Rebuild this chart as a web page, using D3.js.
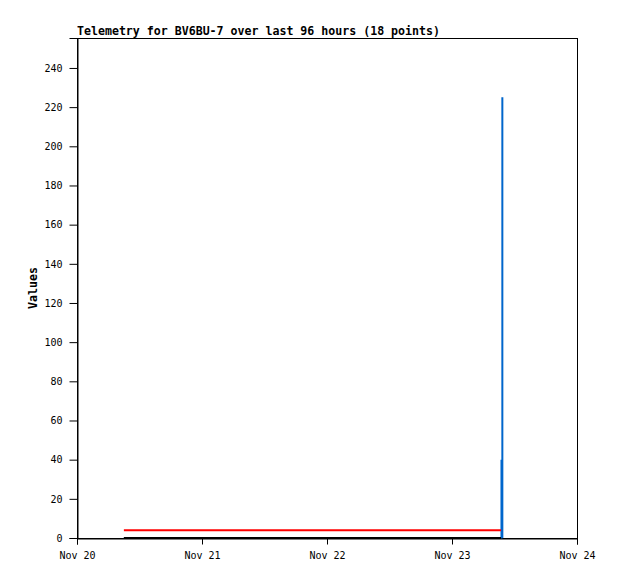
<!DOCTYPE html>
<html>
<head>
<meta charset="utf-8">
<script src="https://cdn.jsdelivr.net/npm/d3@7"></script>
<style>
  body { margin: 0; background: #fff; }
  svg { display: block; }
</style>
</head>
<body>
<svg width="618" height="579"></svg>
<script>
// telemetry series (3 channels x 6 points)
const lineTimes = ["2023-11-20T09:00", "2023-11-20T21:00", "2023-11-21T09:00", "2023-11-22T09:00", "2023-11-23T09:00", "2023-11-23T09:25"];
const blueTimes = ["2023-11-20T09:00", "2023-11-22T09:00", "2023-11-23T09:30", "2023-11-23T09:30", "2023-11-23T09:40", "2023-11-23T09:40"];
const redValues = [4, 4, 4, 4, 4, 4];
const blackValues = [0, 0, 0, 0, 0, 0];
const blueValues = [0, 0, 0, 40, 0, 225];
const yTicks = [0, 20, 40, 60, 80, 100, 120, 140, 160, 180, 200, 220, 240];
const xTicks = ["2023-11-20T00:00", "2023-11-21T00:00", "2023-11-22T00:00", "2023-11-23T00:00", "2023-11-24T00:00"];

const parse = d3.timeParse("%Y-%m-%dT%H:%M");
const margin = {top: 38, left: 77, right: 41, bottom: 41};
const width = 618, height = 579;

const svg = d3.select("svg");
const x = d3.scaleTime()
    .domain([parse(xTicks[0]), parse(xTicks[xTicks.length - 1])])
    .range([margin.left, width - margin.right]);
const y = d3.scaleLinear()
    .domain([0, 255.3])
    .range([height - margin.bottom, margin.top]);

const font = "'DejaVu Sans Mono', monospace";

// frame
svg.append("rect")
    .attr("x", margin.left + 0.5).attr("y", margin.top + 0.5)
    .attr("width", width - margin.left - margin.right)
    .attr("height", height - margin.top - margin.bottom)
    .attr("fill", "none").attr("stroke", "#000");

const line = d3.line().x(d => x(d[0])).y(d => y(d[1]));
const series = [
  {times: blueTimes, values: blueValues, color: "#0066cc"},
  {times: lineTimes, values: redValues, color: "#ff0000"},
  {times: lineTimes, values: blackValues, color: "#000000"}
];
svg.selectAll("path.series")
    .data(series)
    .join("path")
    .attr("class", "series")
    .attr("fill", "none")
    .attr("stroke", d => d.color)
    .attr("stroke-width", 2)
    .attr("d", d => line(d.times.map((t, i) => [parse(t), d.values[i]])));

// axes
const yAxis = svg.append("g")
    .attr("transform", `translate(${margin.left + 0.5},0)`)
    .call(d3.axisLeft(y).tickValues(yTicks).tickSize(8).tickPadding(7));
const xAxis = svg.append("g")
    .attr("transform", `translate(0,${height - margin.bottom + 0.5})`)
    .call(d3.axisBottom(x).tickValues(xTicks.map(parse)).tickFormat(d3.timeFormat("%b %d")).tickSize(6).tickPadding(7));
[yAxis, xAxis].forEach(g => {
  g.select(".domain").attr("stroke", "#000");
  g.selectAll("line").attr("stroke", "#000");
  g.selectAll("text").attr("font-family", font).attr("font-size", 10).attr("fill", "#000");
});

svg.append("text")
    .attr("x", margin.left).attr("y", 35)
    .attr("font-family", font).attr("font-weight", "bold").attr("font-size", 11.6)
    .text("Telemetry for BV6BU-7 over last 96 hours (18 points)");

svg.append("text")
    .attr("transform", `translate(37,${(margin.top + height - margin.bottom) / 2}) rotate(-90)`)
    .attr("text-anchor", "middle")
    .attr("font-family", font).attr("font-weight", "bold").attr("font-size", 11.6)
    .text("Values");
</script>
</body>
</html>
